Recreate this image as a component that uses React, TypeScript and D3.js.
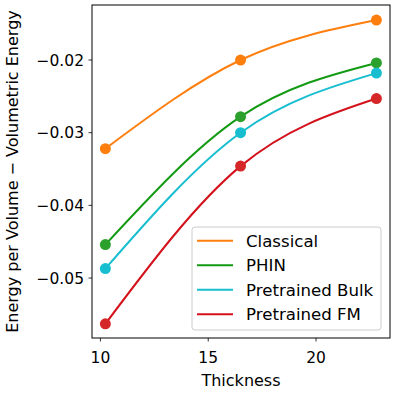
import * as React from 'react';
import * as d3 from 'd3';

// thickness values shared by every series
const thickness = [10.23, 16.5, 22.8];

const seriesNames = ['Classical', 'PHIN', 'Pretrained Bulk', 'Pretrained FM'];
const classical = [-0.0322, -0.0200, -0.0145];
const phin = [-0.0454, -0.0278, -0.0204];
const pretrainedBulk = [-0.0487, -0.0300, -0.0218];
const pretrainedFM = [-0.0563, -0.0346, -0.0253];

const xTicks = [10, 15, 20];
const yTicks = [-0.05, -0.04, -0.03, -0.02];

const lineColors = ['#ff7f0e', '#139a13', '#17becf', '#d3121c'];
const markerColors = ['#ff7f0e', '#2ca02c', '#17becf', '#d62728'];

const WIDTH = 395;
const HEIGHT = 395;
const MARGINS = { top: 5, right: 5, bottom: 57, left: 92 };
const FONT = 'DejaVu Sans, sans-serif';

export default function App() {
    const values = [classical, phin, pretrainedBulk, pretrainedFM];

    const xScale = d3.scaleLinear()
        .domain([9.61, 23.43])
        .range([MARGINS.left, WIDTH - MARGINS.right]);
    const yScale = d3.scaleLinear()
        .domain([-0.05825, -0.01243])
        .range([HEIGHT - MARGINS.bottom, MARGINS.top]);

    const lineGen = d3.line<[number, number]>()
        .curve(d3.curveMonotoneX)
        .x((d) => xScale(d[0]))
        .y((d) => yScale(d[1]));

    const fmt = d3.format('.2f');
    const plotBottom = HEIGHT - MARGINS.bottom;
    const plotRight = WIDTH - MARGINS.right;

    // legend box
    const lgX = 192, lgY = 227, lgW = 189, lgH = 103, rowH = 24.5;

    return (
        <svg width={WIDTH} height={HEIGHT} style={{ position: 'absolute', left: 0, top: 0 }}
            fontFamily={FONT}>
            <rect x={0} y={0} width={WIDTH} height={HEIGHT} fill="#fff" />

            {values.map((vals, i) => {
                const pts: [number, number][] = thickness.map((t, j) => [t, vals[j]]);
                return (
                    <g key={seriesNames[i]}>
                        <path d={lineGen(pts) || ''} fill="none" stroke={lineColors[i]} strokeWidth={2} />
                        {pts.map((p, j) => (
                            <circle key={j} cx={xScale(p[0])} cy={yScale(p[1])} r={5.5} fill={markerColors[i]} />
                        ))}
                    </g>
                );
            })}

            {/* frame */}
            <rect x={MARGINS.left} y={MARGINS.top} width={plotRight - MARGINS.left}
                height={plotBottom - MARGINS.top} fill="none" stroke="#000" strokeWidth={1} />

            {/* x axis */}
            {xTicks.map((t) => (
                <g key={t} transform={`translate(${xScale(t)},0)`}>
                    <line y1={plotBottom} y2={plotBottom + 3.5} stroke="#000" strokeWidth={0.8} />
                    <text y={plotBottom + 25} textAnchor="middle" fontSize={15.5} fill="#000">{t}</text>
                </g>
            ))}
            <text x={(MARGINS.left + plotRight) / 2} y={386} textAnchor="middle" fontSize={16} fill="#000">Thickness</text>

            {/* y axis */}
            {yTicks.map((t) => (
                <g key={t} transform={`translate(0,${yScale(t)})`}>
                    <line x1={MARGINS.left - 3.5} x2={MARGINS.left} stroke="#000" strokeWidth={0.8} />
                    <text x={MARGINS.left - 8} dy="0.36em" textAnchor="end" fontSize={15.5} fill="#000">{fmt(t)}</text>
                </g>
            ))}
            <text transform={`translate(18,${(MARGINS.top + plotBottom) / 2}) rotate(-90)`}
                textAnchor="middle" fontSize={16} fill="#000">
                Energy per Volume − Volumetric Energy
            </text>

            {/* legend */}
            <rect x={lgX} y={lgY} width={lgW} height={lgH} rx={3} fill="#fff" fillOpacity={0.8}
                stroke="#cccccc" strokeWidth={1} />
            {seriesNames.map((name, i) => {
                const cy = lgY + 13.7 + i * rowH;
                return (
                    <g key={name}>
                        <line x1={lgX + 5} x2={lgX + 41} y1={cy} y2={cy} stroke={lineColors[i]} strokeWidth={2} />
                        <text x={lgX + 54} y={cy} dy="0.36em" fontSize={16.6} fill="#000">{name}</text>
                    </g>
                );
            })}
        </svg>
    );
}
